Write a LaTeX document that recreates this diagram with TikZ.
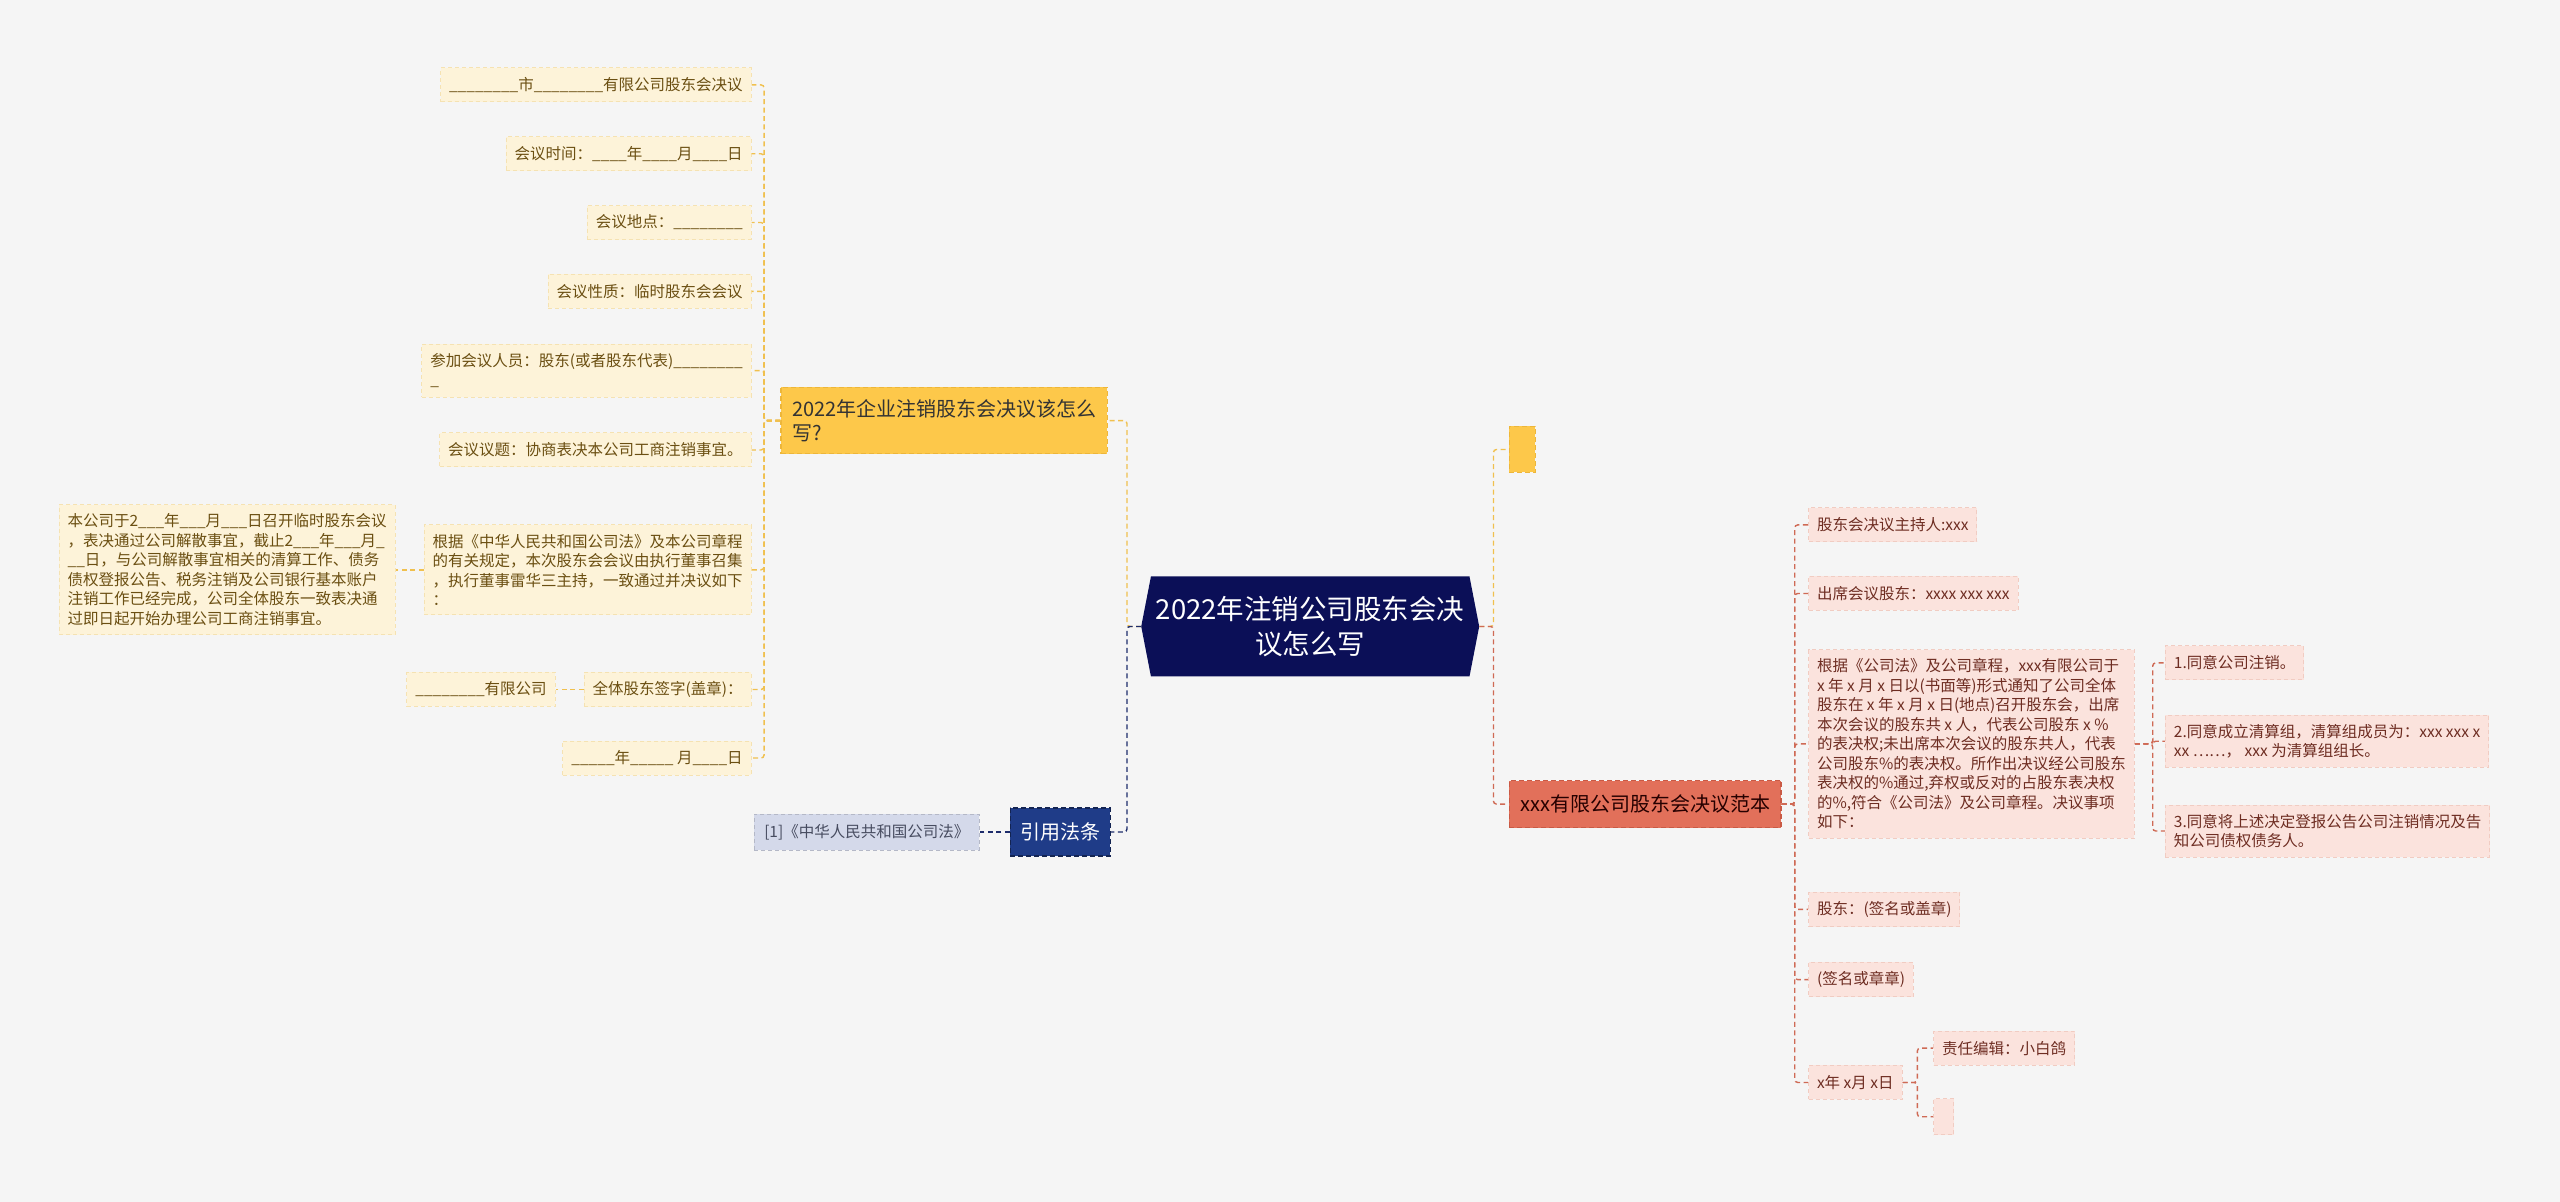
\documentclass[tikz,border=0pt]{standalone}
\usepackage{fontspec}
\setmainfont{Noto Sans CJK SC}
\usepackage{xcolor}
\usetikzlibrary{positioning,shapes.symbols}

\definecolor{paper}{HTML}{F5F5F5}
\definecolor{navy}{HTML}{0B0F57}
\definecolor{gold}{HTML}{FDC84A}
\definecolor{golddk}{HTML}{EDB63A}
\definecolor{goldline}{HTML}{F0C04E}
\definecolor{cream}{HTML}{FDF3D9}
\definecolor{creamdk}{HTML}{F5E2B2}
\definecolor{browntxt}{HTML}{6B4F12}
\definecolor{coral}{HTML}{E2705A}
\definecolor{coraldk}{HTML}{C95A45}
\definecolor{pink}{HTML}{FBE3DD}
\definecolor{pinkdk}{HTML}{F1CCC2}
\definecolor{redtxt}{HTML}{6E2D22}
\definecolor{redline}{HTML}{CF6A55}
\definecolor{lawblue}{HTML}{1F3C88}
\definecolor{lavender}{HTML}{D4D9EA}
\definecolor{graytxt}{HTML}{474C60}
\definecolor{navyline}{HTML}{1D2C6B}

\begin{document}
\begin{tikzpicture}[x=1.6327pt,y=-1.6327pt,
	rootbox/.style={signal,signal to=west and east,signal pointer angle=158,fill=navy,text=white,font=\fontsize{27.5}{35}\selectfont,align=center,inner xsep=5pt,inner ysep=4pt,minimum height=100pt},
	ybranch/.style={fill=gold,draw=golddk,dash pattern=on 5pt off 3pt,line width=1.2pt,text=black!80,font=\fontsize{20}{24}\selectfont,align=left,inner xsep=11pt,inner ysep=12pt},
	rbranch/.style={ybranch,fill=coral,draw=coraldk,text=black!85!red,minimum height=47pt,inner ysep=4pt},
	nbranch/.style={ybranch,fill=lawblue,draw=lawblue!60!black,text=white,minimum height=48pt,inner ysep=4pt,inner xsep=10pt},
	yleaf/.style={fill=cream,draw=creamdk,dash pattern=on 4pt off 3pt,line width=1pt,text=browntxt,font=\fontsize{15.5}{19.5}\selectfont,align=left,inner xsep=8.5pt,inner ysep=9pt,minimum height=34pt},
	rleaf/.style={yleaf,fill=pink,draw=pinkdk,text=redtxt},
	nleaf/.style={yleaf,fill=lavender,draw=lavender!85!black,text=graytxt,inner xsep=10pt,minimum height=36pt},
	ylink/.style={draw=goldline,line width=1.4pt,dash pattern=on 5pt off 3.5pt,rounded corners=3pt},
	rlink/.style={ylink,draw=redline},
	nlink/.style={ylink,draw=navyline}]

	\fill[paper] (0,0) rectangle (1568,736);
	\useasboundingbox (0,0) rectangle (1568,736);

	\node[rootbox] (root) at (802.5,383.7) {2022年注销公司股东会决\\议怎么写};

	% left: how to write
	\node[ybranch,anchor=west] (q) at (478,257.6) {2022年企业注销股东会决议该怎么\\写?};
	\node[yleaf,anchor=east] (q1) at (460.4,52) {\_\_\_\_\_\_\_\_市\_\_\_\_\_\_\_\_有限公司股东会决议};
	\node[yleaf,anchor=east] (q2) at (460.4,94.2) {会议时间：\_\_\_\_年\_\_\_\_月\_\_\_\_日};
	\node[yleaf,anchor=east] (q3) at (460.4,136.3) {会议地点：\_\_\_\_\_\_\_\_};
	\node[yleaf,anchor=east] (q4) at (460.4,178.5) {会议性质：临时股东会会议};
	\node[yleaf,anchor=east] (q5) at (460.4,227) {参加会议人员：股东(或者股东代表)\_\_\_\_\_\_\_\_\\\_};
	\node[yleaf,anchor=east] (q6) at (460.4,275.6) {会议议题：协商表决本公司工商注销事宜。};
	\node[yleaf,anchor=east] (q7) at (460.4,349) {根据《中华人民共和国公司法》及本公司章程\\的有关规定，本次股东会会议由执行董事召集\\，执行董事雷华三主持，一致通过并决议如下\\：};
	\node[yleaf,left=28pt of q7] (q7a) {本公司于2\_\_\_年\_\_\_月\_\_\_日召开临时股东会议\\，表决通过公司解散事宜，截止2\_\_\_年\_\_\_月\_\\\_\_日，与公司解散事宜相关的清算工作、债务\\债权登报公告、税务注销及公司银行基本账户\\注销工作已经完成，公司全体股东一致表决通\\过即日起开始办理公司工商注销事宜。};
	\node[yleaf,anchor=east] (q8) at (460.4,422.3) {全体股东签字(盖章)：};
	\node[yleaf,left=28pt of q8] (q8a) {\_\_\_\_\_\_\_\_有限公司};
	\node[yleaf,anchor=east] (q9) at (460.4,464.3) {\_\_\_\_\_年\_\_\_\_\_ 月\_\_\_\_日};

	% left: law
	\node[nbranch,anchor=east] (law) at (680.5,509.6) {引用法条};
	\node[nleaf,left=30pt of law] (lawref) {[1]《中华人民共和国公司法》};

	% right
	\node[ybranch,anchor=west,minimum width=26pt,minimum height=46pt,inner sep=0pt] (yb) at (924,275.3) {};
	\node[rbranch,anchor=west] (r) at (924,492.5) {xxx有限公司股东会决议范本};
	\node[rleaf,anchor=west] (ra) at (1107.4,321.5) {股东会决议主持人:xxx};
	\node[rleaf,anchor=west] (rb) at (1107.4,363.5) {出席会议股东：xxxx xxx xxx};
	\node[rleaf,anchor=north west] (rc) at (1107.4,397.6) {根据《公司法》及公司章程，xxx有限公司于\\x 年 x 月 x 日以(书面等)形式通知了公司全体\\股东在 x 年 x 月 x 日(地点)召开股东会，出席\\本次会议的股东共 x 人，代表公司股东 x \%\\的表决权;未出席本次会议的股东共人，代表\\公司股东\%的表决权。所作出决议经公司股东\\表决权的\%通过,弃权或反对的占股东表决权\\的\%,符合《公司法》及公司章程。决议事项\\如下：};
	\node[rleaf,anchor=west] (rc1) at (1326,406) {1.同意公司注销。};
	\node[rleaf,anchor=west] (rc2) at (1326,454) {2.同意成立清算组，清算组成员为：xxx xxx x\\xx ……， xxx 为清算组组长。};
	\node[rleaf,anchor=west] (rc3) at (1326,509) {3.同意将上述决定登报公告公司注销情况及告\\知公司债权债务人。};
	\node[rleaf,anchor=west] (rd) at (1107.4,557) {股东：(签名或盖章)};
	\node[rleaf,anchor=west] (re) at (1107.4,600) {(签名或章章)};
	\node[rleaf,anchor=west] (rf) at (1107.4,663) {x年 x月 x日};
	\node[rleaf,anchor=west] (rf1) at (1184,642) {责任编辑：小白鸽};
	\node[rleaf,anchor=west,minimum width=20pt,minimum height=36pt,inner sep=0pt] (rf2) at (1184,684) {};

	\draw[ylink] (root.west) -- ++(-8.6,0) |- (q.east);
	\draw[nlink] (root.west) -- ++(-8.6,0) |- (law.east);
	\draw[ylink] (root.east) -- ++(8.6,0) |- (yb.west);
	\draw[rlink] (root.east) -- ++(8.6,0) |- (r.west);

	\draw[ylink] (q.west) -- ++(-10,0) |- (q1.east);
	\draw[ylink] (q.west) -- ++(-10,0) |- (q2.east);
	\draw[ylink] (q.west) -- ++(-10,0) |- (q3.east);
	\draw[ylink] (q.west) -- ++(-10,0) |- (q4.east);
	\draw[ylink] (q.west) -- ++(-10,0) |- (q5.east);
	\draw[ylink] (q.west) -- ++(-10,0) |- (q6.east);
	\draw[ylink] (q.west) -- ++(-10,0) |- (q7.east);
	\draw[ylink] (q.west) -- ++(-10,0) |- (q8.east);
	\draw[ylink] (q.west) -- ++(-10,0) |- (q9.east);
	\draw[ylink] (q7.west) -- (q7a.east);
	\draw[ylink] (q8.west) -- (q8a.east);
	\draw[nlink] (law.west) -- (lawref.east);

	\draw[rlink] (r.east) -- ++(8,0) |- (ra.west);
	\draw[rlink] (r.east) -- ++(8,0) |- (rb.west);
	\draw[rlink] (r.east) -- ++(8,0) |- (rc.west);
	\draw[rlink] (r.east) -- ++(8,0) |- (rd.west);
	\draw[rlink] (r.east) -- ++(8,0) |- (re.west);
	\draw[rlink] (r.east) -- ++(8,0) |- (rf.west);
	\draw[rlink] (rc.east) -- ++(11,0) |- (rc1.west);
	\draw[rlink] (rc.east) -- ++(11,0) |- (rc2.west);
	\draw[rlink] (rc.east) -- ++(11,0) |- (rc3.west);
	\draw[rlink] (rf.east) -- ++(9,0) |- (rf1.west);
	\draw[rlink] (rf.east) -- ++(9,0) |- (rf2.west);
\end{tikzpicture}
\end{document}
